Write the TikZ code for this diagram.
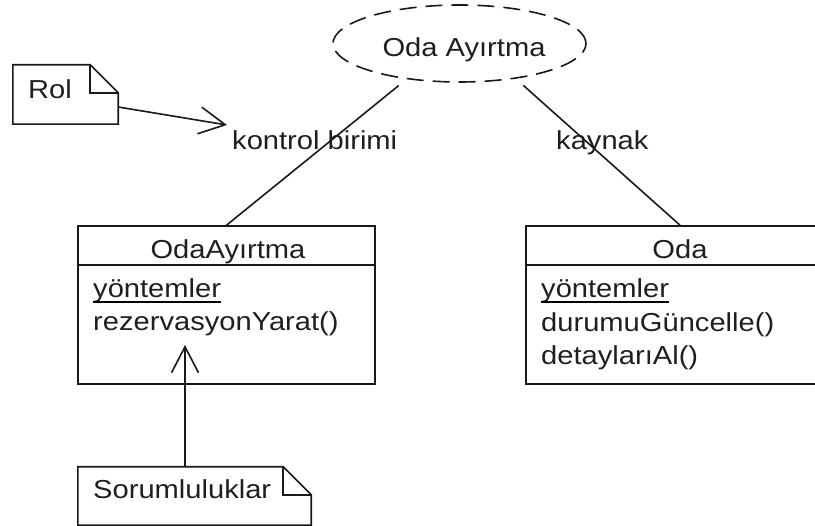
\documentclass[tikz,border=0pt]{standalone}
\usepackage{fontspec}
\setmainfont{Liberation Sans}[FakeStretch=1.12]
\usetikzlibrary{arrows.meta,shapes.geometric}

\tikzset{
  ink/.style={line width=1.6pt, draw=black!90},
  lbl/.style={inner sep=0pt, font=\fontsize{26}{30}\selectfont, text=black!88},
  usecase/.style={ellipse, ink, dash pattern=on 17pt off 9pt},
  classbox/.style={rectangle, ink, inner sep=0pt},
  notebox/.style={rectangle, draw=none, inner sep=0pt},
  openarrow/.style={ink, -{Straight Barb[length=26pt,width=27pt]}},
}

% note shape with a folded corner, drawn around a node
\newcommand{\notefold}[2]{%
  \draw[ink, line join=miter]
    (#1.north west) -- ([xshift=-#2]#1.north east) -- ([yshift=-#2]#1.north east)
    -- (#1.south east) -- (#1.south west) -- cycle;
  \draw[ink] ([xshift=-#2]#1.north east) |- ([yshift=-#2]#1.north east);
}

\begin{document}
\begin{tikzpicture}[x=1pt, y=-1pt]
  \useasboundingbox (0,0) rectangle (815,526);

  % use case
  \node[usecase, minimum width=253pt, minimum height=77pt] (uc) at (459.5,43.5) {};
  \node[lbl, anchor=base] (uctext) at (464,57) {Oda Ayırtma};

  % class OdaAyirtma
  \node[classbox, minimum width=297pt, minimum height=158pt] (oa) at (226.5,305) {};
  \draw[ink] ([yshift=-40pt]oa.north west) -- ([yshift=-40pt]oa.north east);
  \node[lbl, anchor=base] (oatitle) at (228,259) {OdaAyırtma};
  \node[lbl, anchor=base west] (oameth) at (93,298) {yöntemler};
  \draw[line width=1.2pt] ([yshift=-4pt]oameth.base west) -- ([yshift=-4pt]oameth.base east);
  \node[lbl, anchor=base west] (oaop) at (93,331) {rezervasyonYarat()};

  % class Oda
  \node[classbox, minimum width=308pt, minimum height=158pt] (oda) at (680,305) {};
  \draw[ink] ([yshift=-40pt]oda.north west) -- ([yshift=-40pt]oda.north east);
  \node[lbl, anchor=base] (odatitle) at (680,259) {Oda};
  \node[lbl, anchor=base west] (odameth) at (541,298) {yöntemler};
  \draw[line width=1.2pt] ([yshift=-4pt]odameth.base west) -- ([yshift=-4pt]odameth.base east);
  \node[lbl, anchor=base west] (odaop1) at (541,332) {durumuGüncelle()};
  \node[lbl, anchor=base west] (odaop2) at (541,365) {detaylarıAl()};

  % role labels
  \node[lbl, anchor=base west] (kb) at (232,150) {kontrol birimi};
  \node[lbl, anchor=base west] (kay) at (556,150) {kaynak};

  % associations
  \draw[ink, shorten <=10pt] (uc.214) -- (oa.north);
  \draw[ink, shorten <=10pt] (uc.328) -- (oda.north);

  % notes
  \node[notebox, minimum width=105pt, minimum height=59pt] (rol) at (65.5,94.5) {};
  \notefold{rol}{28pt}
  \node[lbl, anchor=base west] (roltext) at (28,99) {Rol};

  \node[notebox, minimum width=233pt, minimum height=58pt] (sor) at (194.5,496) {};
  \notefold{sor}{28pt}
  \node[lbl, anchor=base west] (sortext) at (93,499) {Sorumluluklar};

  % note arrows
  \coordinate (roltip) at (227,125);
  \coordinate (sortip) at (185,345);
  \draw[openarrow] ([yshift=-12.5pt]rol.east) -- (roltip);
  \draw[openarrow] ([xshift=-9.5pt]sor.north) -- (sortip);
\end{tikzpicture}
\end{document}
